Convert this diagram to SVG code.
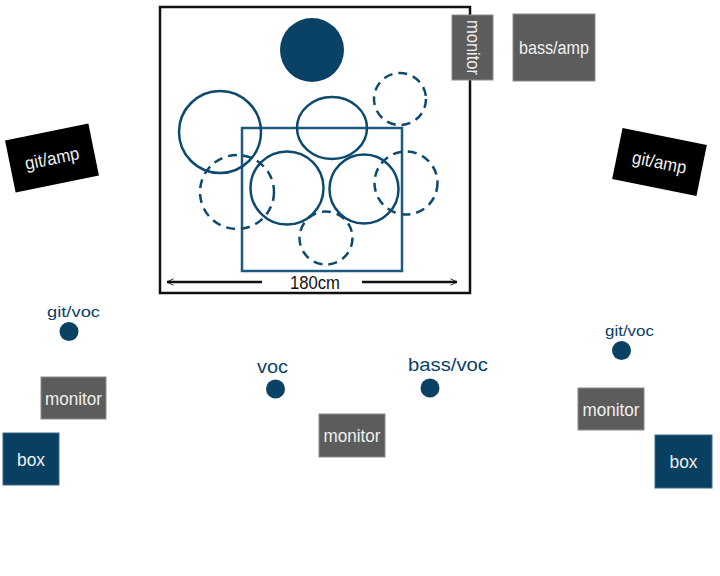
<svg xmlns="http://www.w3.org/2000/svg" width="720" height="576" viewBox="0 0 720 576">
<defs>
<style>
.grey{fill:#5c5c5c;stroke:#8a8a8a;stroke-width:1}
.navybox{fill:#093f60;stroke:#3a6a8a;stroke-width:1}
.black{fill:#000}
.wt{font-family:"Liberation Sans",Arial,sans-serif;fill:#f0f0f0;text-anchor:middle}
.bt{font-family:"Liberation Sans",Arial,sans-serif;fill:#0a4266;text-anchor:middle}
.drum{fill:none;stroke:#0d4a6e;stroke-width:2.5}
.dash{fill:none;stroke:#0d4a6e;stroke-width:2.5;stroke-dasharray:9 6}
.dot{fill:#0a4266}
</style>
<marker id="ah" viewBox="0 0 10 10" refX="9" refY="5" markerWidth="8" markerHeight="8" orient="auto-start-reverse" markerUnits="userSpaceOnUse">
<path d="M1,1 L9,5 L1,9" fill="none" stroke="#111" stroke-width="1.2"/>
</marker>
</defs>
<rect width="720" height="576" fill="#fff"/>

<g id="riser">
<rect x="160" y="7" width="310" height="286" fill="none" stroke="#111" stroke-width="2.5"/>
</g>
<g id="drumkit">
<circle cx="312" cy="50" r="32" fill="#0a4266"/>
<rect x="242" y="128" width="160" height="143" fill="none" stroke="#1d5a80" stroke-width="2.5"/>
<circle class="drum" cx="220" cy="132" r="41"/>
<ellipse class="drum" cx="332" cy="128" rx="35" ry="31"/>
<circle class="drum" cx="287" cy="188" r="36.5"/>
<circle class="drum" cx="364" cy="189" r="34.5"/>
<circle class="dash" cx="400" cy="99" r="26"/>
<circle class="dash" cx="237" cy="192" r="37"/>
<circle class="dash" cx="406" cy="183" r="31.5"/>
<circle class="dash" cx="326" cy="238" r="26.5"/>
</g>
<g id="connectors">
<line x1="262" y1="282" x2="167" y2="282" stroke="#111" stroke-width="2.5" marker-end="url(#ah)"/>
<line x1="362" y1="282" x2="457" y2="282" stroke="#111" stroke-width="2.5" marker-end="url(#ah)"/>
</g>
<g id="label-180cm">
<text class="wt" x="315" y="289" font-size="19" textLength="50" lengthAdjust="spacingAndGlyphs" style="fill:#111">180cm</text>
</g>

<g id="monitor-top">
<rect class="grey" x="452" y="15" width="41" height="65"/>
<text class="wt" font-size="18" textLength="55" lengthAdjust="spacingAndGlyphs" transform="translate(472.5,47.5) rotate(90)" y="6">monitor</text>
</g>
<g id="bass-amp">
<rect class="grey" x="513" y="14" width="82" height="67"/>
<text class="wt" x="554" y="54" font-size="18" textLength="70" lengthAdjust="spacingAndGlyphs">bass/amp</text>
</g>
<g id="git-amp-left" transform="translate(52,158) rotate(-11.5)">
<rect class="black" x="-42.5" y="-26.5" width="85" height="53"/>
<text class="wt" x="0" y="6.5" font-size="18" textLength="55" lengthAdjust="spacingAndGlyphs">git/amp</text>
</g>
<g id="git-amp-right" transform="translate(659.5,162) rotate(11.5)">
<rect class="black" x="-43" y="-26" width="86" height="52"/>
<text class="wt" x="0" y="6.5" font-size="18" textLength="55" lengthAdjust="spacingAndGlyphs">git/amp</text>
</g>

<g id="gitvoc-left">
<text class="bt" x="73.5" y="317" font-size="15" textLength="53" lengthAdjust="spacingAndGlyphs">git/voc</text>
<circle class="dot" cx="69" cy="331.5" r="9.5"/>
</g>
<g id="monitor-left">
<rect class="grey" x="41" y="377" width="65" height="42"/>
<text class="wt" x="73.5" y="404.5" font-size="18" textLength="57" lengthAdjust="spacingAndGlyphs">monitor</text>
</g>
<g id="box-left">
<rect class="navybox" x="3" y="433" width="56" height="52"/>
<text class="wt" x="31" y="465.5" font-size="18" textLength="28" lengthAdjust="spacingAndGlyphs">box</text>
</g>

<g id="voc">
<text class="bt" x="272.5" y="372.5" font-size="18" textLength="31" lengthAdjust="spacingAndGlyphs">voc</text>
<circle class="dot" cx="275.5" cy="389" r="9.5"/>
</g>
<g id="bassvoc">
<text class="bt" x="448" y="371" font-size="18" textLength="80" lengthAdjust="spacingAndGlyphs">bass/voc</text>
<circle class="dot" cx="430" cy="388" r="9.5"/>
</g>
<g id="monitor-center">
<rect class="grey" x="319" y="414" width="66" height="43"/>
<text class="wt" x="352" y="441.5" font-size="18" textLength="57" lengthAdjust="spacingAndGlyphs">monitor</text>
</g>

<g id="gitvoc-right">
<text class="bt" x="629.5" y="335.5" font-size="15" textLength="49" lengthAdjust="spacingAndGlyphs">git/voc</text>
<circle class="dot" cx="621.5" cy="350.5" r="9.5"/>
</g>
<g id="monitor-right">
<rect class="grey" x="578" y="388" width="66" height="42"/>
<text class="wt" x="611" y="415.5" font-size="18" textLength="57" lengthAdjust="spacingAndGlyphs">monitor</text>
</g>
<g id="box-right">
<rect class="navybox" x="655" y="435" width="57" height="53"/>
<text class="wt" x="683.5" y="467.5" font-size="18" textLength="28" lengthAdjust="spacingAndGlyphs">box</text>
</g>
</svg>
